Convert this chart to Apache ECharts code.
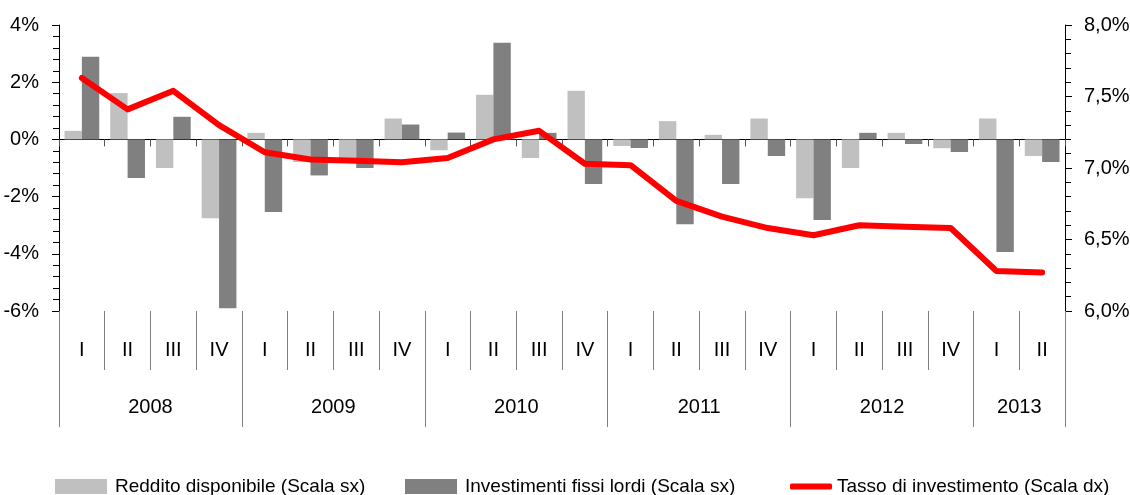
<!DOCTYPE html>
<html lang="it">
<head>
    <meta charset="UTF-8">
    <title>Reddito, investimenti e tasso di investimento</title>
    <style>
        html, body { margin: 0; padding: 0; background: #fff; }
    </style>
</head>
<body>
<div id="main" style="width: 1130px;height:495px;"></div>
<script src="https://cdn.jsdelivr.net/npm/echarts@6/dist/echarts.min.js"></script>
<script>
    // trimestri e anni
    var quarters = ['I', 'II', 'III', 'IV', 'I', 'II', 'III', 'IV', 'I', 'II', 'III', 'IV',
        'I', 'II', 'III', 'IV', 'I', 'II', 'III', 'IV', 'I', 'II'];
    var years = ['2008', '2009', '2010', '2011', '2012', '2013'];
    var quartersPerYear = [4, 4, 4, 4, 4, 2];

    // variazioni % (scala sx)
    var reddito = [0.30, 1.62, -1.00, -2.76, 0.23, -0.79, -0.70, 0.73, -0.38, 1.56, -0.65,
        1.70, -0.23, 0.64, 0.16, 0.73, -2.06, -1.00, 0.23, -0.31, 0.73, -0.58];
    var investimenti = [2.89, -1.35, 0.79, -5.90, -2.54, -1.26, -1.00, 0.52, 0.24, 3.38, 0.23,
        -1.56, -0.30, -2.97, -1.56, -0.58, -2.82, 0.23, -0.16, -0.44, -3.94, -0.79];
    // tasso di investimento % (scala dx)
    var tasso = [7.63, 7.41, 7.54, 7.30, 7.11, 7.06, 7.05, 7.04, 7.07, 7.20, 7.26,
        7.03, 7.02, 6.77, 6.66, 6.58, 6.53, 6.60, 6.59, 6.58, 6.28, 6.27];

    var names = ['Reddito disponibile (Scala sx)', 'Investimenti fissi lordi (Scala sx)',
        'Tasso di investimento (Scala dx)'];

    var FONT = '"Liberation Sans Narrow", "Arial Narrow", "Liberation Sans", sans-serif';
    var SEP = '#7f7f7f';

    // posizioni dei separatori e dei centri anno (in trimestri)
    var yearBounds = [0], yearCenters = [], yearByPos = {};
    var acc = 0;
    for (var i = 0; i < years.length; i++) {
        yearCenters.push(acc + quartersPerYear[i] / 2);
        yearByPos[acc + quartersPerYear[i] / 2] = years[i];
        acc += quartersPerYear[i];
        yearBounds.push(acc);
    }

    var legendText = { fontFamily: FONT, fontSize: 19, color: '#000', padding: [0, 0, 0, 3] };

    var myChart = echarts.init(document.getElementById('main'));
    var option = {
        animation: false,
        backgroundColor: '#fff',
        textStyle: { fontFamily: FONT },
        grid: { left: 59, right: 65, top: 25, bottom: 184, containLabel: false, outerBoundsMode: 'none' },
        legend: [
            {
                data: [names[0]], left: 55, top: 477, padding: 0, icon: 'rect',
                itemWidth: 52, itemHeight: 15,
                textStyle: legendText
            },
            {
                data: [names[1]], left: 405, top: 477, padding: 0, icon: 'rect',
                itemWidth: 52, itemHeight: 15,
                textStyle: legendText
            },
            {
                data: [names[2]], left: 790, top: 477, padding: 0, icon: 'roundRect',
                itemWidth: 42, itemHeight: 6,
                itemStyle: { color: '#ff0000' },
                textStyle: { fontFamily: FONT, fontSize: 19, color: '#000', padding: [0, 0, 0, 0] }
            }
        ],
        xAxis: [
            {   // asse sullo zero
                type: 'category',
                data: quarters,
                position: 'bottom',
                axisLine: { onZero: true, lineStyle: { color: '#000', width: 1 } },
                axisTick: { show: true, length: 7, lineStyle: { color: '#555' } },
                axisLabel: { show: false },
                splitLine: { show: false }
            },
            {   // trimestri
                type: 'category',
                data: quarters,
                position: 'bottom',
                axisLine: { show: false, onZero: false },
                axisTick: { show: true, length: 59, lineStyle: { color: SEP } },
                axisLabel: {
                    margin: 39, verticalAlign: 'middle', interval: 0,
                    fontFamily: FONT, fontSize: 20, color: '#000'
                },
                splitLine: { show: false }
            },
            {   // anni
                type: 'value',
                min: 0,
                max: quarters.length,
                position: 'bottom',
                axisLine: { show: false, onZero: false },
                axisTick: { show: true, length: 116, customValues: yearBounds, lineStyle: { color: SEP } },
                axisLabel: {
                    customValues: yearCenters, margin: 96, verticalAlign: 'middle',
                    fontFamily: FONT, fontSize: 20, color: '#000',
                    formatter: function (v) { return yearByPos[v] || ''; }
                },
                splitLine: { show: false }
            }
        ],
        yAxis: [
            {
                type: 'value',
                min: -6, max: 4, interval: 2,
                position: 'left',
                axisLine: { show: true, onZero: false, lineStyle: { color: '#000' } },
                axisTick: { show: true, length: 7, lineStyle: { color: '#000' } },
                minorTick: { show: true, splitNumber: 5, length: 6, lineStyle: { color: '#000' } },
                splitLine: { show: false },
                axisLabel: {
                    margin: 20, fontFamily: FONT, fontSize: 20, color: '#000',
                    formatter: function (v) { return v + '%'; }
                }
            },
            {
                type: 'value',
                min: 6, max: 8, interval: 0.5,
                position: 'right',
                axisLine: { show: true, onZero: false, lineStyle: { color: '#000' } },
                axisTick: { show: true, length: 7, lineStyle: { color: '#000' } },
                minorTick: { show: true, splitNumber: 5, length: 6, lineStyle: { color: '#000' } },
                splitLine: { show: false },
                axisLabel: {
                    margin: 19, fontFamily: FONT, fontSize: 20, color: '#000',
                    formatter: function (v) { return v.toFixed(1).replace('.', ',') + '%'; }
                }
            }
        ],
        series: [
            {
                name: names[0],
                type: 'bar',
                xAxisIndex: 0,
                yAxisIndex: 0,
                data: reddito,
                barGap: '0%',
                barCategoryGap: '24%',
                itemStyle: { color: '#c0c0c0' }
            },
            {
                name: names[1],
                type: 'bar',
                xAxisIndex: 0,
                yAxisIndex: 0,
                data: investimenti,
                barGap: '0%',
                barCategoryGap: '24%',
                itemStyle: { color: '#808080' }
            },
            {
                name: names[2],
                type: 'line',
                xAxisIndex: 0,
                yAxisIndex: 1,
                data: tasso,
                symbol: 'none',
                z: 5,
                lineStyle: { color: '#ff0000', width: 6, cap: 'round', join: 'round' },
                itemStyle: { color: '#ff0000' }
            }
        ]
    };
    myChart.setOption(option);
</script>
</body>
</html>
